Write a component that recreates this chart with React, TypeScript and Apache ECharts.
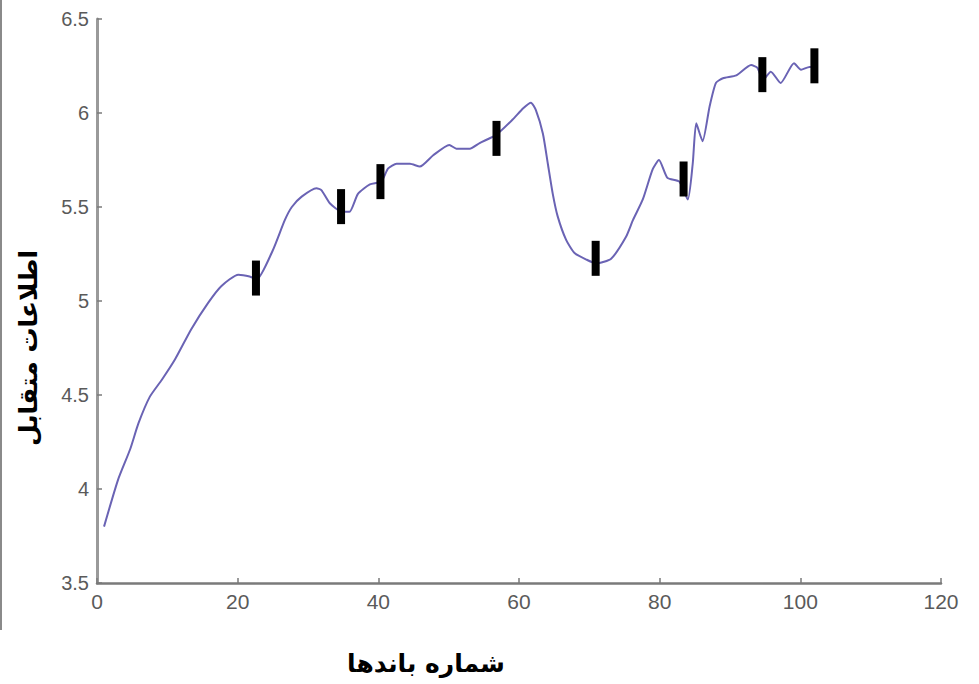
import React, { useEffect, useRef } from "react";
import * as echarts from "echarts";

// Band number (x) and mutual information (y) along the curve
const bands = [
  1, 3.0, 4.7, 5.9, 7.5, 9.2, 11.1, 13.4, 15.8, 17.7, 20.1, 21.7, 22.7, 25.0,
  26.7, 27.7, 29.1, 31.2, 31.9, 33.1, 34.8, 35.9, 37.1, 38.8, 40.4, 41.4, 42.6,
  44.5, 45.9, 47.8, 50.1, 51.1, 53.0, 54.4, 56.8, 59.1, 60.6, 61.7, 62.4, 63.4,
  64.1, 64.8, 65.5, 66.7, 67.9, 69.6, 71.0, 73.1, 75.2, 76.2, 77.6, 79.0, 79.9,
  81.1, 82.8, 84.0, 84.7, 85.2, 86.1, 87.1, 88.0, 89.0, 90.9, 93.0, 93.9, 94.7,
  95.8, 97.2, 99.1, 100.1, 101.3, 102,
];
const mutualInfo = [
  3.8, 4.05, 4.21, 4.35, 4.49, 4.58, 4.69, 4.85, 4.99, 5.08, 5.14, 5.13, 5.115,
  5.27, 5.43, 5.5, 5.555, 5.6, 5.59, 5.52, 5.475, 5.475, 5.57, 5.62, 5.635,
  5.705, 5.73, 5.73, 5.715, 5.775, 5.83, 5.81, 5.81, 5.84, 5.885, 5.965, 6.025,
  6.055, 6.015, 5.89, 5.73, 5.57, 5.45, 5.325, 5.255, 5.22, 5.2, 5.225, 5.34,
  5.43, 5.54, 5.7, 5.75, 5.655, 5.635, 5.54, 5.73, 5.945, 5.85, 6.035, 6.16,
  6.185, 6.2, 6.255, 6.24, 6.175, 6.22, 6.16, 6.265, 6.23, 6.245, 6.245,
];

// Selected bands, shown as black bars
const selectedBands = [22.6, 34.7, 40.3, 56.8, 70.9, 83.4, 94.6, 102];
const selectedValues = [5.122, 5.502, 5.635, 5.865, 5.227, 5.649, 6.204, 6.251];

const xTicks = { min: 0, max: 120, interval: 20 };
const yTicks = { min: 3.5, max: 6.5, interval: 0.5 };

const xTitle = "شماره باندها";
const yTitle = "اطلاعات متقابل";

export default function App() {
  const ref = useRef<HTMLDivElement>(null);

  useEffect(() => {
    if (!ref.current) return;
    const chart = echarts.init(ref.current, null, { renderer: "svg" });
    const axisGray = "#7a7a7a";
    const labelGray = "#5a5a5a";

    chart.setOption({
      animation: false,
      backgroundColor: "#ffffff",
      grid: { left: 97, right: 38, top: 19, bottom: 101 },
      xAxis: {
        type: "value",
        min: xTicks.min,
        max: xTicks.max,
        interval: xTicks.interval,
        axisLine: { show: true, lineStyle: { color: axisGray, width: 2.5 } },
        axisTick: { show: true, inside: true, length: 5, lineStyle: { color: axisGray, width: 1.5 } },
        axisLabel: {
          margin: 8,
          color: labelGray,
          fontSize: 21,
          fontFamily: "Liberation Sans, Arial, sans-serif",
        },
        splitLine: { show: false },
      },
      yAxis: {
        type: "value",
        min: yTicks.min,
        max: yTicks.max,
        interval: yTicks.interval,
        axisLine: { show: true, lineStyle: { color: "#9a9a9a", width: 3 } },
        axisTick: { show: true, inside: true, length: 5, lineStyle: { color: axisGray, width: 1.5 } },
        axisLabel: {
          margin: 8,
          color: labelGray,
          fontSize: 20,
          fontFamily: "Liberation Sans, Arial, sans-serif",
        },
        splitLine: { show: false },
      },
      series: [
        {
          type: "line",
          data: bands.map((b, i) => [b, mutualInfo[i]]),
          showSymbol: false,
          smooth: 0.2,
          lineStyle: { color: "#6a63b4", width: 2 },
          z: 2,
        },
        {
          type: "scatter",
          data: selectedBands.map((b, i) => [b, selectedValues[i]]),
          symbol: "rect",
          symbolSize: [8, 35],
          itemStyle: { color: "#000000", opacity: 1 },
          z: 3,
        },
      ],
      graphic: [
        {
          type: "line",
          shape: { x1: 1, y1: 0, x2: 1, y2: 630 },
          style: { stroke: "#8a8a8a", lineWidth: 2 },
        },
        {
          type: "text",
          x: 426,
          y: 663,
          style: {
            text: xTitle,
            fontFamily: "DejaVu Sans, Noto Sans, sans-serif",
            fontWeight: "bold",
            fontSize: 25,
            fill: "#000000",
            textAlign: "center",
            textVerticalAlign: "middle",
          },
        },
        {
          type: "text",
          x: 28,
          y: 348,
          rotation: Math.PI / 2,
          style: {
            text: yTitle,
            fontFamily: "DejaVu Sans, Noto Sans, sans-serif",
            fontWeight: "bold",
            fontSize: 25,
            fill: "#000000",
            textAlign: "center",
            textVerticalAlign: "middle",
          },
        },
      ],
    });

    return () => chart.dispose();
  }, []);

  return (
    <div
      ref={ref}
      style={{ position: "fixed", left: 0, top: 0, width: 979, height: 684 }}
    />
  );
}
